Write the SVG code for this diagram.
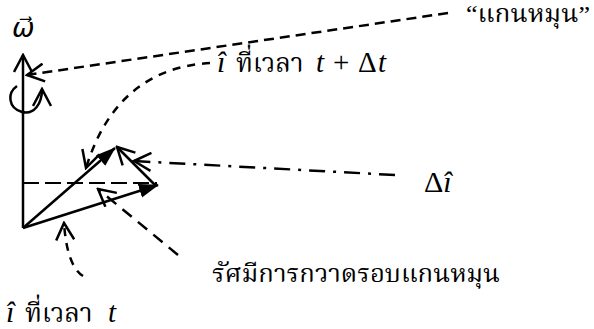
<svg xmlns="http://www.w3.org/2000/svg" width="594" height="329" viewBox="0 0 594 329">
<style>
.ln{fill:none;stroke:#000;stroke-width:2.5}
.d1{stroke-dasharray:10 6}
.d2{stroke-dasharray:16 6;stroke-width:2}
.d3{stroke-dasharray:16 8 3 8}
.d4{stroke-dasharray:12 8}
.d5{stroke-dasharray:8 7}
.t{font-family:'Liberation Serif','Noto Serif Thai','Noto Sans Thai','DejaVu Sans',serif;fill:#000}
.i{font-style:italic}
</style>
<defs>
<marker id="op" viewBox="0 0 20 20" refX="18" refY="10" markerWidth="20" markerHeight="20" markerUnits="userSpaceOnUse" orient="auto">
<path d="M1,1 L18,10 L1,19" fill="none" stroke="#000" stroke-width="2.5"/>
</marker>
<marker id="fl" viewBox="0 0 20 16" refX="19" refY="8" markerWidth="20" markerHeight="16" markerUnits="userSpaceOnUse" orient="auto">
<path d="M0,1 L20,8 L0,15 Z" fill="#000"/>
</marker>
</defs>
<g id="connectors">
<line id="axis" class="ln" x1="23" y1="228" x2="23" y2="55" marker-end="url(#op)"/>
<path id="curl" class="ln" d="M17 86 C7 93,8 108,22 112 C34 115,42 104,42 89" marker-end="url(#op)"/>
<line id="ptr-axis" class="ln d1" x1="448" y1="13" x2="27" y2="75" marker-end="url(#op)"/>
<line id="vec-i-t" class="ln" x1="23" y1="228" x2="158" y2="185" marker-end="url(#fl)"/>
<line id="vec-i-tdt" class="ln" x1="23" y1="228" x2="115" y2="148" marker-end="url(#fl)"/>
<line id="vec-di" class="ln" x1="156" y1="186" x2="117" y2="147" marker-end="url(#op)"/>
<line id="horiz" class="ln d2" x1="23" y1="183" x2="157" y2="183"/>
<line id="ptr-di" class="ln d3" x1="395" y1="175" x2="134" y2="161" marker-end="url(#op)"/>
<path id="ptr-i-tdt" class="ln d5" d="M210 63 C160 66,110 90,86 168" marker-end="url(#op)"/>
<line id="ptr-radius" class="ln d4" x1="178" y1="255" x2="98" y2="189" marker-end="url(#op)"/>
<path id="ptr-i-t" class="ln d5" d="M83 276 Q67 266 64 223" marker-end="url(#op)"/>
</g>
<g id="label-omega"><text class="t i" x="12" y="37" font-size="27">ω⃗</text></g>
<g id="label-axis"><text class="t" x="466" y="22" font-size="24" textLength="124" lengthAdjust="spacingAndGlyphs">“แกนหมุน”</text></g>
<g id="label-i-tdt">
<text class="t i" x="217" y="72" font-size="30">î</text>
<text class="t" x="236" y="72" font-size="26">ที่เวลา</text>
<text class="t" y="72" font-size="29"><tspan class="i" x="316">t</tspan><tspan x="333">+</tspan><tspan x="358">Δ</tspan><tspan class="i" x="378">t</tspan></text>
</g>
<g id="label-di"><text class="t" x="424" y="192" font-size="30">Δ<tspan class="i">î</tspan></text></g>
<g id="label-radius"><text class="t" x="212" y="282" font-size="25" textLength="288" lengthAdjust="spacingAndGlyphs">รัศมีการกวาดรอบแกนหมุน</text></g>
<g id="label-i-t">
<text class="t i" x="6" y="322" font-size="30">î</text>
<text class="t" x="25" y="322" font-size="26">ที่เวลา</text>
<text class="t i" x="108" y="322" font-size="29">t</text>
</g>
</svg>
